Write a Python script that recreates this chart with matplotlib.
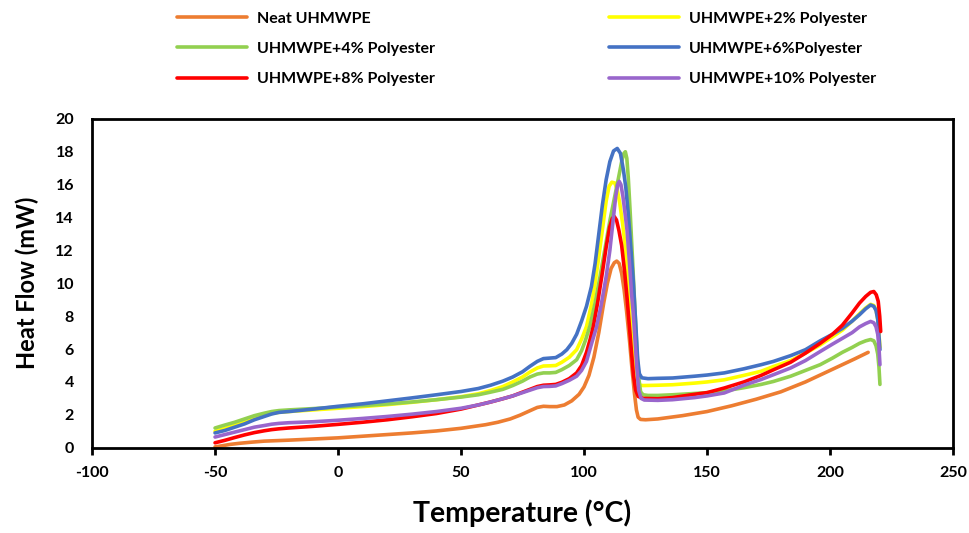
import matplotlib.pyplot as plt

# DSC curves: temperature (°C) and heat flow (mW)
t_neat = [-50, -47, -44, -40, -35, -30, -25, -20, -10, 0, 10, 20, 30, 40, 50, 60, 65, 70, 74, 78,
          81, 83.5, 86, 89, 92, 95, 98, 100, 102, 104, 106, 108, 109.5, 111, 112.3, 113.3, 114.3,
          115.3, 116.3, 117.3, 118.5, 119.5, 120.5, 121.3, 122, 123, 125, 130, 140, 150, 160,
          170, 180, 190, 200, 210, 215.5]
hf_neat = [0.05, 0.12, 0.2, 0.27, 0.34, 0.4, 0.43, 0.46, 0.53, 0.6, 0.7, 0.8, 0.9, 1.02, 1.18,
           1.4, 1.55, 1.75, 1.98, 2.25, 2.45, 2.52, 2.5, 2.5, 2.6, 2.85, 3.25, 3.7, 4.4, 5.5, 7.0,
           8.8, 10.0, 10.9, 11.25, 11.35, 11.2, 10.6, 9.6, 8.3, 6.5, 4.8, 3.3, 2.3, 1.85, 1.72,
           1.7, 1.75, 1.95, 2.2, 2.55, 2.95, 3.4, 4.0, 4.7, 5.4, 5.8]

t_2 = [-50, -46, -42, -38, -34, -30, -27, -24, -20, -10, 0, 10, 20, 30, 40, 50, 57, 62, 67, 71,
       75, 78, 81, 83.5, 86, 88.5, 91, 94, 97, 99, 101, 103, 104.5, 106, 107.5, 109, 110.2, 111.3,
       112.5, 113.5, 114.5, 115.7, 116.7, 117.8, 118.7, 119.5, 120.4, 121.2, 122, 124, 130, 136,
       145, 150, 157, 165, 172, 177, 184, 190, 196, 201, 205, 209, 212, 214.5, 216.5, 217.8,
       218.7, 219.4, 219.9, 220.3]
hf_2 = [1.0, 1.18, 1.38, 1.6, 1.8, 1.98, 2.08, 2.15, 2.2, 2.3, 2.4, 2.5, 2.62, 2.76, 2.92, 3.1,
        3.28, 3.48, 3.72, 4.0, 4.3, 4.6, 4.85, 4.97, 4.98, 5.0, 5.2, 5.5, 5.96, 6.6, 7.37, 8.7,
        10.0, 11.6, 13.3, 15.0, 15.9, 16.15, 16.1, 15.7, 14.9, 13.6, 12.3, 10.0, 8.0, 6.3, 4.9,
        4.0, 3.82, 3.78, 3.8, 3.83, 3.93, 4.0, 4.13, 4.4, 4.65, 4.94, 5.3, 5.75, 6.25, 6.75, 7.15,
        7.7, 8.15, 8.5, 8.72, 8.65, 8.4, 7.8, 6.9, 6.1]

t_4 = [-50, -46, -42, -38, -34, -30, -27, -24, -20, -10, 0, 10, 20, 30, 40, 50, 57, 62, 67, 71,
       75, 78, 81, 83.5, 86, 88.5, 91, 94, 97, 99, 100.5, 102.4, 104.5, 106.5, 108.5, 110.5,
       112.5, 114, 115.3, 116.2, 116.8, 117.4, 118, 118.7, 119.7, 120.7, 121.5, 122.2, 123, 124,
       126, 130, 136, 145, 150, 157, 165, 172, 177, 184, 190, 196, 201, 205, 209, 212, 214.5,
       216.5, 217.8, 218.7, 219.4, 219.9, 220.3]
hf_4 = [1.2, 1.38, 1.55, 1.75, 1.95, 2.1, 2.2, 2.26, 2.3, 2.38, 2.47, 2.56, 2.66, 2.78, 2.92,
        3.08, 3.22, 3.38, 3.55, 3.78, 4.05, 4.3, 4.48, 4.55, 4.55, 4.58, 4.75, 5.0, 5.35, 5.9,
        6.5, 7.4, 8.8, 10.4, 12.1, 13.8, 15.3, 16.4, 17.4, 17.9, 18.0, 17.6, 16.4, 14.5, 11.5,
        8.4, 5.9, 4.3, 3.4, 3.22, 3.18, 3.18, 3.22, 3.3, 3.35, 3.45, 3.65, 3.85, 4.03, 4.35, 4.7,
        5.05, 5.45, 5.8, 6.1, 6.35, 6.5, 6.58, 6.5, 6.2, 5.7, 4.9, 3.85]

t_6 = [-50, -46, -42, -38, -34, -30, -27, -24, -20, -10, 0, 10, 20, 30, 40, 50, 57, 62, 67, 71,
       75, 78, 81, 83.5, 86, 88.5, 91, 93, 95, 97, 99, 101, 103, 104.5, 106, 107.5, 109, 110.5,
       112, 113.5, 114.8, 116, 117, 118, 119, 120, 121, 121.8, 122.5, 123.5, 126, 130, 136, 145,
       150, 157, 165, 172, 177, 184, 190, 196, 201, 205, 209, 212, 214.5, 216.5, 217.8, 218.7,
       219.4, 219.9, 220.3]
hf_6 = [0.9, 1.05, 1.25, 1.45, 1.7, 1.9, 2.05, 2.15, 2.2, 2.35, 2.52, 2.67, 2.85, 3.03, 3.22,
        3.42, 3.6, 3.8, 4.05, 4.3, 4.62, 4.95, 5.25, 5.42, 5.45, 5.48, 5.7, 5.96, 6.35, 6.9, 7.7,
        8.6, 9.8, 11.2, 13.0, 14.8, 16.3, 17.4, 18.05, 18.2, 17.9, 16.9, 15.8, 14.2, 12.2, 10.2,
        7.6, 5.4, 4.5, 4.25, 4.2, 4.22, 4.24, 4.35, 4.42, 4.55, 4.8, 5.05, 5.25, 5.6, 5.96, 6.5,
        6.9, 7.25, 7.7, 8.09, 8.45, 8.68, 8.6, 8.35, 7.8, 6.8, 5.96]

t_8 = [-50, -46, -42, -38, -34, -30, -27, -24, -20, -10, 0, 10, 20, 30, 40, 50, 57, 62, 67, 71,
       75, 78, 81, 83.5, 86, 88.5, 91, 94, 97, 99, 101, 102.5, 103.8, 105.5, 107.2, 109, 110.4,
       111.5, 112.3, 113.2, 114.2, 115.3, 116.5, 117.5, 118.5, 119.3, 120.1, 121, 122, 124, 130,
       136, 145, 150, 157, 165, 172, 177, 184, 190, 196, 201, 205, 209, 212, 214.5, 216.5, 217.8,
       218.8, 219.6, 220.2, 220.6]
hf_8 = [0.3, 0.45, 0.62, 0.78, 0.92, 1.03, 1.1, 1.15, 1.2, 1.3, 1.42, 1.55, 1.7, 1.88, 2.08,
        2.35, 2.6, 2.78, 2.98, 3.15, 3.38, 3.55, 3.72, 3.8, 3.82, 3.85, 3.98, 4.2, 4.55, 5.0, 5.8,
        6.6, 7.4, 8.8, 10.4, 12.2, 13.4, 13.95, 14.06, 13.85, 13.2, 12.3, 10.7, 9.1, 7.3, 5.8,
        4.4, 3.5, 3.12, 3.0, 2.98, 3.05, 3.25, 3.35, 3.63, 4.0, 4.4, 4.74, 5.2, 5.75, 6.35, 6.9,
        7.45, 8.2, 8.8, 9.2, 9.45, 9.5, 9.3, 8.9, 8.0, 7.07]

t_10 = [-50, -46, -42, -38, -34, -30, -27, -24, -20, -10, 0, 10, 20, 30, 40, 50, 57, 62, 67, 71,
        75, 78, 81, 83.5, 86, 88.5, 91, 94, 97, 99, 101, 103, 105, 107, 109, 110.5, 111.8, 112.9,
        113.7, 114.3, 115, 115.8, 116.8, 117.5, 118.5, 119.3, 120, 120.8, 121.5, 122.2, 123.2,
        124.5, 130, 136, 145, 150, 157, 165, 172, 177, 184, 190, 196, 201, 205, 209, 212, 214.5,
        216.5, 217.8, 218.7, 219.4, 219.9, 220.3]
hf_10 = [0.65, 0.8, 0.95, 1.1, 1.25, 1.35, 1.43, 1.48, 1.52, 1.58, 1.67, 1.78, 1.9, 2.04, 2.2,
         2.4, 2.6, 2.78, 2.98, 3.15, 3.35, 3.5, 3.65, 3.72, 3.73, 3.76, 3.9, 4.1, 4.35, 4.7, 5.25,
         6.3, 7.3, 8.7, 10.4, 12.0, 13.8, 15.3, 16.0, 16.2, 16.0, 15.3, 14.1, 13.2, 11.2, 9.4,
         8.2, 6.4, 4.8, 3.5, 3.0, 2.9, 2.88, 2.92, 3.05, 3.15, 3.33, 3.8, 4.15, 4.44, 4.85, 5.3,
         5.85, 6.3, 6.65, 7.0, 7.35, 7.55, 7.68, 7.6, 7.35, 6.9, 6.1, 5.05]

labels = ['Neat UHMWPE', 'UHMWPE+2% Polyester', 'UHMWPE+4% Polyester',
          'UHMWPE+6%Polyester', 'UHMWPE+8% Polyester', 'UHMWPE+10% Polyester']
colors = ['#ED7D31', '#FFFF00', '#92D050', '#4472C4', '#FF0000', '#9966CC']
x_ticks = [-100, -50, 0, 50, 100, 150, 200, 250]
y_ticks = list(range(0, 21, 2))

plt.rcParams['font.family'] = ['Lato', 'DejaVu Sans']
plt.rcParams['font.weight'] = 'bold'
plt.rcParams['axes.unicode_minus'] = False

fig = plt.figure(figsize=(9.69, 5.33), dpi=100)
ax = fig.add_axes([0.095, 0.16, 0.8885, 0.617])

series = [(t_neat, hf_neat), (t_2, hf_2), (t_4, hf_4), (t_6, hf_6), (t_8, hf_8), (t_10, hf_10)]
lines = []
for (t, hf), lab, col in zip(series, labels, colors):
    ln, = ax.plot(t, hf, color=col, lw=2.6, label=lab,
                  solid_capstyle='round', solid_joinstyle='round')
    lines.append(ln)

ax.set_xlim(-100, 250)
ax.set_ylim(0, 20)
ax.set_xticks(x_ticks)
ax.set_yticks(y_ticks)
ax.tick_params(axis='x', length=5, width=2, direction='out', labelsize=11.5, pad=8)
ax.tick_params(axis='y', length=0, labelsize=11.5, pad=13)
for lbl in ax.get_xticklabels() + ax.get_yticklabels():
    lbl.set_fontweight('bold')
for sp in ax.spines.values():
    sp.set_linewidth(2)
    sp.set_color('black')

ax.set_xlabel('Temperature (°C)', fontsize=20.5, fontweight='bold', labelpad=14)
ax.set_ylabel('Heat Flow (mW)', fontsize=17, fontweight='bold', labelpad=12)

# legend filled row-wise like the original (two columns)
order = [0, 2, 4, 1, 3, 5]
fig.legend([lines[i] for i in order], [labels[i] for i in order], ncol=2, frameon=False,
           loc='upper left', bbox_to_anchor=(0.168, 1.005), fontsize=11.5,
           handlelength=4.4, handletextpad=0.6, columnspacing=10.9, labelspacing=1.0)

fig.savefig('out.png', dpi=100)
plt.close()
